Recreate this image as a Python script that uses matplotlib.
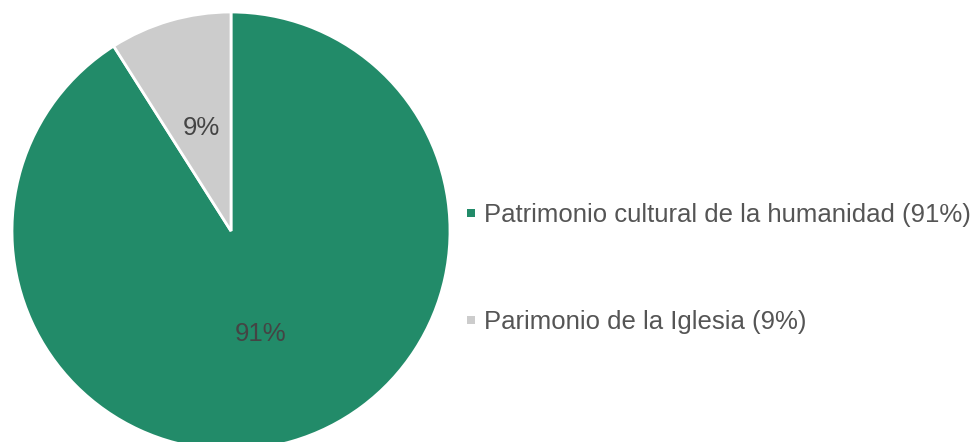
import matplotlib
matplotlib.use("Agg")
import matplotlib.pyplot as plt
from matplotlib.lines import Line2D

labels = ["Patrimonio cultural de la humanidad", "Parimonio de la Iglesia"]
shares = [91, 9]
colors = ["#228B69", "#CCCCCC"]

plt.rcParams["font.family"] = ["Liberation Sans", "DejaVu Sans"]

W, H = 974, 442
fig = plt.figure(figsize=(W / 100, H / 100), dpi=100)
# pie box in pixels: x 12..450, y 12..450 from the top (bottom runs off the canvas)
ax = fig.add_axes([12 / W, (H - 450) / H, 438 / W, 438 / H])

wedges, texts, autotexts = ax.pie(
    shares, colors=colors, startangle=90, counterclock=False,
    autopct="%d%%", pctdistance=0.49,
    wedgeprops=dict(edgecolor="white", linewidth=2),
    textprops=dict(color="#444444", fontsize=18.5),
)
ax.set_xlim(-1, 1)
ax.set_ylim(-1, 1)
ax.set_aspect("equal")

# small square keys
keys = [Line2D([], [], marker="s", linestyle="none", markersize=5.8,
               markerfacecolor=c, markeredgewidth=0) for c in colors]
leg_labels = [f"{l} ({v}%)" for l, v in zip(labels, shares)]
fig.legend(keys, leg_labels, loc="center left",
           bbox_to_anchor=(467 / W, 1 - 268.5 / H), frameon=False,
           fontsize=18.5, labelcolor="#555555",
           handlelength=0.32, handletextpad=0.35,
           labelspacing=3.2, borderpad=0, borderaxespad=0)

fig.savefig("out.png", dpi=100)
